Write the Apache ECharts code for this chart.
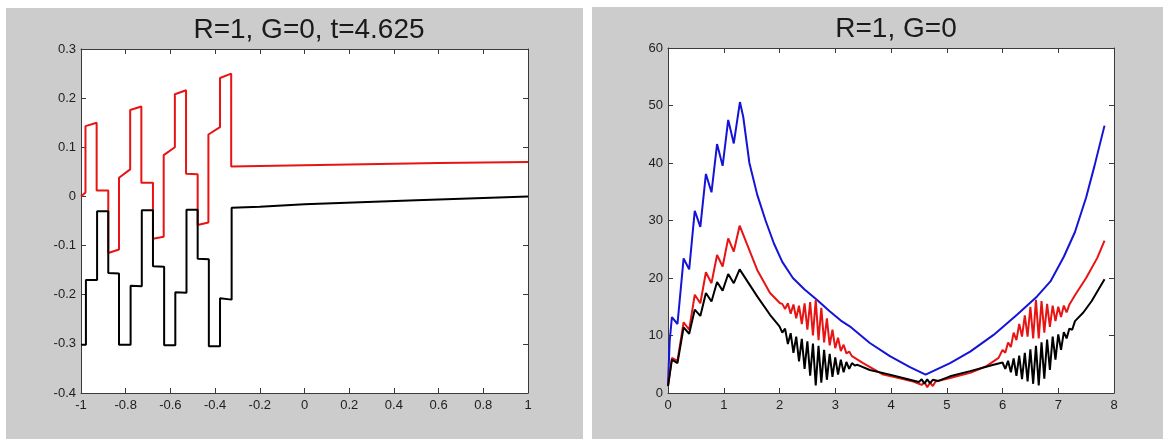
<!DOCTYPE html>
<html>
<head>
<meta charset="utf-8">
<script src="https://cdn.jsdelivr.net/npm/echarts@6/dist/echarts.min.js"></script>
<style>
  body { margin: 0; background: #fff; width: 1163px; height: 439px; overflow: hidden; }
  .panel { position: absolute; background: #cccccc; }
  #left { left: 6px; top: 8px; width: 577px; height: 431px; }
  #right { left: 592px; top: 7px; width: 571px; height: 432px; }
</style>
</head>
<body>
<div id="left" class="panel"></div>
<div id="right" class="panel"></div>
<script>
// left panel: field along the line at t=4.625
var leftTitle = 'R=1, G=0, t=4.625';
var leftRed = [
  [-1, 0.0], [-0.98, 0.008], [-0.98, 0.143], [-0.93, 0.15], [-0.93, 0.012],
  [-0.878, 0.012], [-0.878, -0.115], [-0.83, -0.108], [-0.83, 0.038], [-0.78, 0.055],
  [-0.78, 0.176], [-0.73, 0.183], [-0.73, 0.028], [-0.678, 0.028], [-0.678, -0.086],
  [-0.63, -0.082], [-0.63, 0.084], [-0.58, 0.1], [-0.58, 0.208], [-0.53, 0.216],
  [-0.53, 0.046], [-0.478, 0.045], [-0.478, -0.058], [-0.43, -0.053], [-0.43, 0.126],
  [-0.378, 0.141], [-0.378, 0.241], [-0.328, 0.25], [-0.328, 0.061], [-0.2, 0.062],
  [0.2, 0.065], [0.6, 0.068], [1, 0.07]
];
var leftBlack = [
  [-1, -0.302], [-0.978, -0.302], [-0.978, -0.17], [-0.928, -0.17], [-0.928, -0.03],
  [-0.878, -0.03], [-0.878, -0.156], [-0.83, -0.157], [-0.83, -0.302], [-0.778, -0.302],
  [-0.778, -0.182], [-0.728, -0.183], [-0.728, -0.028], [-0.678, -0.028], [-0.678, -0.142],
  [-0.628, -0.143], [-0.628, -0.303], [-0.578, -0.303], [-0.578, -0.195], [-0.528, -0.196],
  [-0.528, -0.027], [-0.478, -0.027], [-0.478, -0.127], [-0.428, -0.128], [-0.428, -0.305],
  [-0.378, -0.305], [-0.378, -0.207], [-0.326, -0.21], [-0.326, -0.023], [-0.2, -0.021],
  [0, -0.016], [0.5, -0.008], [1, 0.0]
];

// right panel: energy over time
var rightTitle = 'R=1, G=0';
var rightBlue = [
  [0, 1.5], [0.03, 9], [0.07, 13.2], [0.17, 12.0], [0.28, 23.4], [0.38, 21.5],
  [0.48, 31.7], [0.58, 28.9], [0.68, 38.1], [0.78, 34.9], [0.88, 43.3], [0.98, 39.5],
  [1.08, 47.5], [1.18, 43.4], [1.29, 50.6], [1.35, 48], [1.46, 40], [1.6, 34.5],
  [1.75, 30], [1.9, 26], [2.05, 22.8], [2.24, 20], [2.45, 18], [2.67, 16.2],
  [2.9, 14.2], [3.1, 12.6], [3.26, 11.6], [3.62, 8.7], [3.98, 6.4], [4.34, 4.5],
  [4.62, 3.2], [5.06, 5.2], [5.42, 7.2], [5.84, 10.1], [6.26, 13.6], [6.62, 16.8],
  [6.86, 19.4], [7.1, 23.7], [7.3, 28], [7.5, 34], [7.65, 39.5], [7.83, 46.5]
];
var rightRed = [
  [0, 1.2], [0.07, 6.1], [0.17, 5.6], [0.28, 12.3], [0.38, 11], [0.48, 17.1],
  [0.58, 15.6], [0.68, 21], [0.78, 19.1], [0.88, 24], [0.98, 22], [1.08, 26.9],
  [1.18, 24.6], [1.285, 29.1], [1.6, 21.4], [1.83, 17.4], [2.01, 15.6],
  [2.05, 15.5], [2.1, 14.6], [2.15, 15.6], [2.2, 13.8], [2.25, 15.4], [2.3, 13.0],
  [2.35, 15.2], [2.4, 12.0], [2.45, 15.6], [2.5, 11.0], [2.55, 15.8], [2.6, 10.0],
  [2.65, 16.2], [2.7, 9.2], [2.75, 14.8], [2.8, 8.8], [2.85, 13.0], [2.9, 8.3],
  [2.95, 11.0], [3.0, 7.8], [3.05, 9.6], [3.1, 7.3], [3.15, 8.4], [3.2, 6.9],
  [3.25, 7.2], [3.3, 6.4], [3.5, 5.2], [3.86, 3.2], [4.1, 2.7], [4.4, 2.0],
  [4.55, 1.4], [4.6, 1.9], [4.65, 1.0], [4.7, 1.8], [4.75, 1.2], [4.8, 2.0],
  [5.06, 2.6], [5.42, 3.5], [5.7, 4.6], [5.93, 6.1],
  [6.0, 7.5], [6.05, 7.0], [6.1, 8.8], [6.15, 8.0], [6.2, 10.5], [6.25, 9.2],
  [6.3, 12.0], [6.35, 9.8], [6.4, 13.5], [6.45, 9.8], [6.5, 15.0], [6.55, 9.5],
  [6.6, 16.2], [6.65, 9.5], [6.7, 16.0], [6.75, 10.5], [6.8, 15.5], [6.85, 11.5],
  [6.9, 15.2], [6.95, 12.5], [7.0, 15.0], [7.05, 13.2], [7.1, 15.2], [7.15, 14.0],
  [7.2, 15.4], [7.3, 17], [7.5, 20], [7.7, 23.5], [7.83, 26.5]
];
var rightBlack = [
  [0, 1.2], [0.07, 5.8], [0.17, 5.2], [0.28, 11.4], [0.38, 10.3], [0.48, 14.5],
  [0.58, 13.4], [0.68, 17.4], [0.78, 15.9], [0.88, 19.3], [0.98, 17.8], [1.08, 20.7],
  [1.18, 19.1], [1.285, 21.5], [1.6, 16.8], [1.83, 13.6], [2.0, 11.6],
  [2.05, 10.5], [2.1, 11.2], [2.15, 8.5], [2.2, 10.4], [2.25, 7.0], [2.3, 9.8],
  [2.35, 5.5], [2.4, 9.4], [2.45, 4.2], [2.5, 9.0], [2.55, 3.0], [2.6, 8.6],
  [2.65, 1.3], [2.7, 8.2], [2.75, 1.8], [2.8, 7.5], [2.85, 2.3], [2.9, 6.8],
  [2.95, 2.8], [3.0, 6.2], [3.05, 3.2], [3.1, 5.8], [3.15, 3.6], [3.2, 5.4],
  [3.25, 4.2], [3.3, 5.2], [3.35, 4.8], [3.4, 4.9], [3.62, 4.0], [3.98, 3.2],
  [4.34, 2.3], [4.5, 1.9], [4.55, 2.4], [4.6, 1.6], [4.65, 2.4], [4.7, 1.7],
  [4.75, 2.3], [4.85, 2.1], [5.06, 2.9], [5.42, 3.8], [5.84, 4.9], [6.0, 5.3],
  [6.05, 4.2], [6.1, 5.6], [6.15, 3.6], [6.2, 6.0], [6.25, 3.0], [6.3, 6.5],
  [6.35, 2.4], [6.4, 7.0], [6.45, 2.0], [6.5, 7.6], [6.55, 1.6], [6.6, 8.2],
  [6.65, 1.3], [6.7, 8.8], [6.75, 2.5], [6.8, 9.3], [6.85, 4.0], [6.9, 9.8],
  [6.95, 5.8], [7.0, 10.2], [7.05, 7.5], [7.1, 10.6], [7.15, 9.5], [7.2, 11.2],
  [7.25, 11.0], [7.3, 12.5], [7.45, 14], [7.6, 16], [7.83, 19.8]
];

var axisColor = '#3a3a3a';
var labelFont = { color: '#1e1e1e', fontSize: 13, fontFamily: 'Liberation Sans, Arial, sans-serif' };

function boxAxes(min, max, step, isX) {
  // main axis with labels plus a mirrored one for the box edge
  var base = {
    type: 'value', min: min, max: max, interval: step,
    axisLine: { show: true, onZero: false, lineStyle: { color: axisColor, width: 1 } },
    axisTick: { show: true, inside: true, length: 5, lineStyle: { color: axisColor } },
    splitLine: { show: false }
  };
  var main = Object.assign({}, base, {
    position: isX ? 'bottom' : 'left',
    axisLabel: Object.assign({ margin: isX ? 6 : 5 }, labelFont)
  });
  var mirror = Object.assign({}, base, {
    position: isX ? 'top' : 'right',
    axisLabel: { show: false }
  });
  return [main, mirror];
}

function lineSeries(data, color) {
  return {
    type: 'line', data: data, showSymbol: false, symbol: 'none',
    lineStyle: { color: color, width: 2 }, xAxisIndex: 0, yAxisIndex: 0,
    animation: false
  };
}

function makeOption(title, centerX, grid, xr, yr, series) {
  return {
    animation: false,
    title: {
      text: title, left: centerX, top: 3, textAlign: 'center',
      textStyle: { color: '#1a1a1a', fontSize: 28, fontWeight: 'normal', fontFamily: 'Liberation Sans, Arial, sans-serif' }
    },
    grid: Object.assign({ backgroundColor: '#ffffff', show: true, borderWidth: 0 }, grid),
    xAxis: boxAxes(xr[0], xr[1], xr[2], true),
    yAxis: boxAxes(yr[0], yr[1], yr[2], false),
    series: series
  };
}

var leftChart = echarts.init(document.getElementById('left'));
leftChart.setOption(makeOption(leftTitle, 298,
  { left: 75, top: 41, width: 447, height: 344 },
  [-1, 1, 0.2], [-0.4, 0.3, 0.1],
  [lineSeries(leftRed, '#e81414'), lineSeries(leftBlack, '#000000')]));

var rightChart = echarts.init(document.getElementById('right'));
rightChart.setOption(makeOption(rightTitle, 299,
  { left: 76, top: 41, width: 446, height: 345 },
  [0, 8, 1], [0, 60, 10],
  [lineSeries(rightBlue, '#1414d8'), lineSeries(rightRed, '#e81414'), lineSeries(rightBlack, '#000000')]));
</script>
</body>
</html>
